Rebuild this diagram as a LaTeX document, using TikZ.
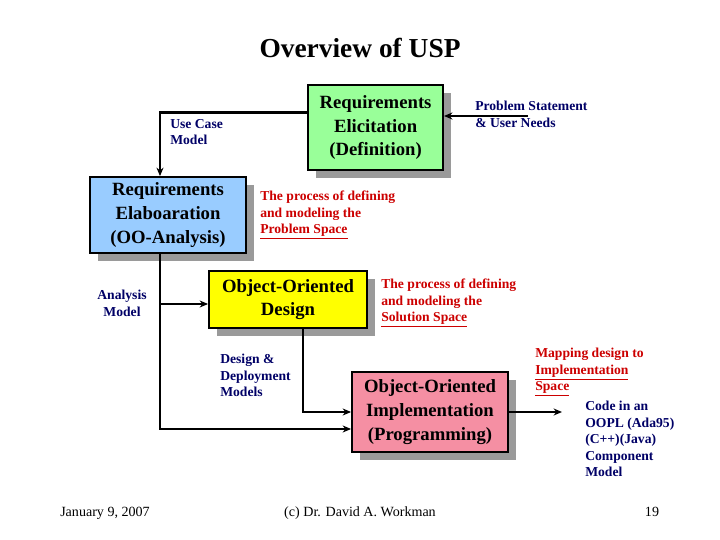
\documentclass[tikz,border=0pt]{standalone}
\usepackage{fontspec}
\setmainfont{Liberation Serif}
\usepackage{tikz}
\usetikzlibrary{arrows.meta, positioning, shadows}
\usepackage{xcolor}
\definecolor{USPGreen}{HTML}{99FF99}
\definecolor{USPBlue}{HTML}{99CCFF}
\definecolor{USPYellow}{HTML}{FFFF00}
\definecolor{USPPink}{HTML}{F58FA3}
\definecolor{USPShadow}{HTML}{9A9A9A}
\definecolor{USPNavy}{HTML}{000066}
\definecolor{USPRed}{HTML}{CC0000}
\tikzset{
    stage/.style={
        draw=black,
        line width=1.3pt,
        fill=#1,
        text=black,
        font=\fontsize{13.3}{17}\selectfont\bfseries,
        align=center,
        inner sep=2pt,
        drop shadow={shadow xshift=0.2cm, shadow yshift=-0.2cm, fill=USPShadow, opacity=1}
    },
    stage/.default=USPGreen,
    arrow/.style={
        -{Stealth[length=6pt, width=5pt]},
        line width=2pt,
        black
    },
    note/.style={
        text=USPNavy,
        font=\fontsize{9.7}{11.7}\selectfont\bfseries,
        align=left,
        inner sep=0pt
    },
    remark/.style={
        note,
        text=USPRed
    },
    footer/.style={
        font=\fontsize{10}{12}\selectfont,
        inner sep=0pt
    }
}
\begin{document}
\begin{tikzpicture}
    \useasboundingbox (0,0) rectangle (18,13.5);
    \node[font=\fontsize{19.5}{23}\selectfont\bfseries] (title) at (9,12.3) {Overview of USP};

    % the four stages
    \node[stage=USPGreen, minimum width=3.375cm, minimum height=2.125cm] (elicit) at (9.39,10.31) {Requirements\\Elicitation\\(Definition)};
    \node[stage=USPBlue, minimum width=3.9cm, minimum height=1.9cm] (elab) at (4.2,8.125) {Requirements\\Elaboaration\\(OO-Analysis)};
    \node[stage=USPYellow, minimum width=3.95cm, minimum height=1.425cm] (design) at (7.2,6.01) {Object-Oriented\\Design};
    \node[stage=USPPink, minimum width=3.9cm, minimum height=2cm] (impl) at (10.75,3.2) {Object-Oriented\\Implementation\\(Programming)};

    % free ends
    \coordinate (needs) at (13.2,10.6);
    \coordinate (amodel) at (4.0,5.9);
    \coordinate (code) at (14.05,3.2);

    \draw[arrow] (needs) -- (needs -| elicit.east);
    \draw[arrow] ([yshift=0.375cm]elicit.west) -| ([xshift=-0.2cm]elab.north);
    \draw[arrow] ([xshift=-0.2cm]elab.south) |- ([yshift=-0.425cm]impl.west);
    \draw[arrow] (amodel) -- (amodel -| design.west);
    \draw[arrow] ([xshift=0.375cm]design.south) |- (impl.west);
    \draw[arrow] (impl.east) -- (code);

    % labels
    \node[note, anchor=north west] (ucm) at (4.25,10.525) {Use Case\\Model};
    \node[note, anchor=north west] (psun) at (11.875,10.975) {Problem Statement\\\& User Needs};
    \node[remark, anchor=north west] (pspace) at (6.5,8.725) {The process of defining\\and modeling the\\\underline{Problem Space}};
    \node[note, align=center, anchor=north] (anm) at (3.05,6.25) {Analysis\\Model};
    \node[remark, anchor=north west] (sspace) at (9.525,6.525) {The process of defining\\and modeling the\\\underline{Solution Space}};
    \node[note, anchor=north west] (ddm) at (5.5,4.65) {Design \&\\Deployment\\Models};
    \node[remark, anchor=north west] (ispace) at (13.375,4.8) {Mapping design to\\\underline{Implementation}\\\underline{Space}};
    \node[note, anchor=north west] (codetxt) at (14.625,3.475) {Code in an\\OOPL (Ada95)\\(C++)(Java)\\Component\\Model};

    % footer
    \node[footer, anchor=base west] (date) at (1.5,0.6) {January 9, 2007};
    \node[footer, anchor=base] (author) at (9,0.6) {(c) Dr. David A. Workman};
    \node[footer, anchor=base] (page) at (16.3,0.6) {19};
\end{tikzpicture}
\end{document}
